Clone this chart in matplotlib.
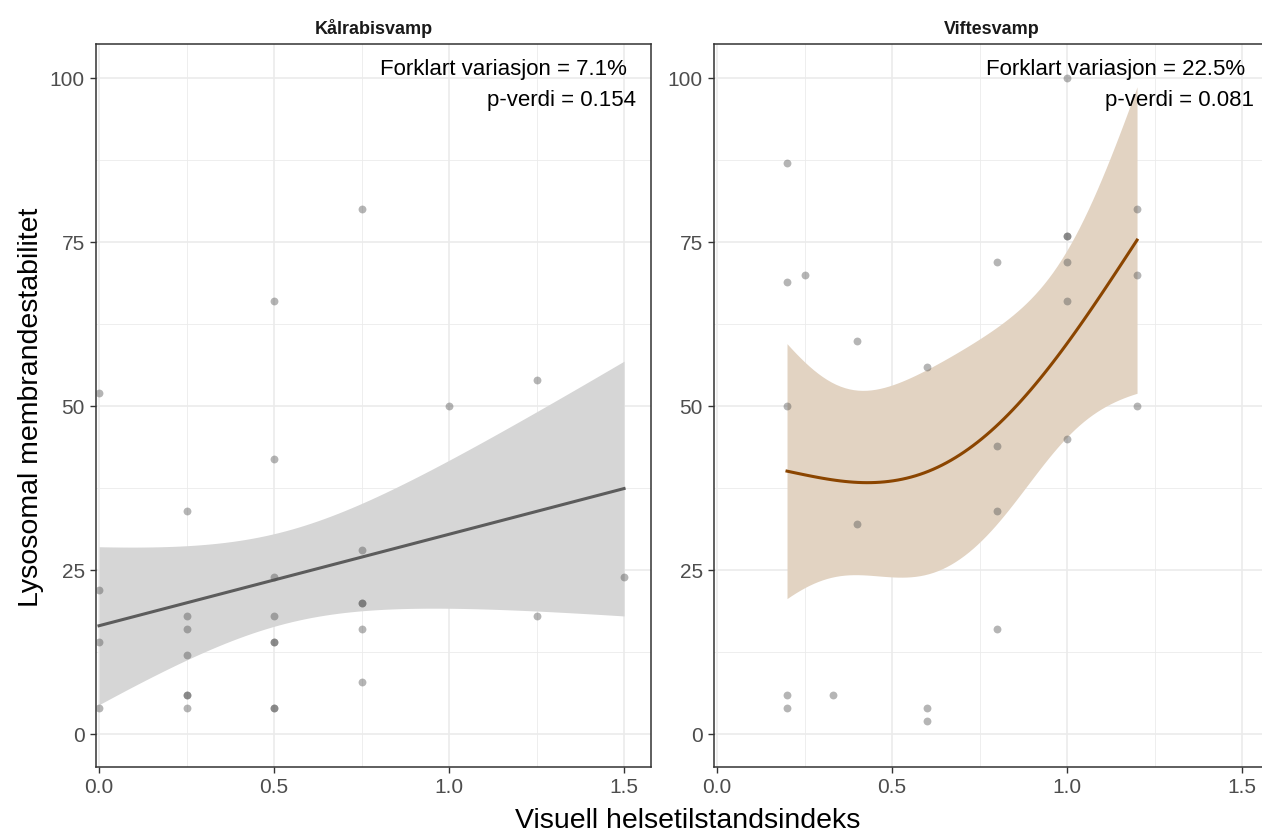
import numpy as np
import matplotlib
matplotlib.use("Agg")
import matplotlib.pyplot as plt
from matplotlib.ticker import MultipleLocator, FormatStrFormatter

plt.rcParams['font.family'] = ['Liberation Sans', 'DejaVu Sans']

# Kålrabisvamp data (x = visual health index, y = membrane destabilisation)
kal_x = [0, 0, 0, 0,
         0.25, 0.25, 0.25, 0.25, 0.25, 0.25, 0.25,
         0.5, 0.5, 0.5, 0.5, 0.5, 0.5, 0.5, 0.5,
         0.75, 0.75, 0.75, 0.75, 0.75, 0.75,
         1.0, 1.25, 1.25, 1.5]
kal_y = [52, 22, 14, 4,
         34, 18, 16, 12, 6, 6, 4,
         66, 42, 24, 18, 14, 14, 4, 4,
         80, 28, 20, 20, 16, 8,
         50, 54, 18, 24]

# Viftesvamp data
vif_x = [0.2, 0.2, 0.2, 0.2, 0.2,
         0.25, 0.33, 0.4, 0.4,
         0.6, 0.6, 0.6,
         0.8, 0.8, 0.8, 0.8,
         1.0, 1.0, 1.0, 1.0, 1.0, 1.0,
         1.2, 1.2, 1.2]
vif_y = [87, 69, 50, 6, 4,
         70, 6, 60, 32,
         56, 4, 2,
         72, 44, 34, 16,
         100, 76, 76, 72, 66, 45,
         80, 70, 50]

titles = ["Kålrabisvamp", "Viftesvamp"]
notes = [("Forklart variasjon = 7.1%", "p-verdi = 0.154"),
         ("Forklart variasjon = 22.5%", "p-verdi = 0.081")]


def tp_basis(xu, k):
    # 1-d thin plate regression spline (m=2), like mgcv s(x, k=k)
    eta = lambda r: np.abs(r) ** 3 / 12.0
    E = eta(xu[:, None] - xu[None, :])
    vals, vecs = np.linalg.eigh(E)
    idx = np.argsort(-np.abs(vals))[:k]
    U, D = vecs[:, idx], vals[idx]
    T = np.column_stack([np.ones_like(xu), xu])
    Q, _ = np.linalg.qr(U.T @ T, mode='complete')
    Z = Q[:, 2:]
    S = Z.T @ np.diag(D) @ Z
    S = (S + S.T) / 2
    if np.trace(S) < 0:
        S = -S

    def design(x):
        W = eta(x[:, None] - xu[None, :]) @ U @ Z
        return np.column_stack([np.ones_like(x), x, W])
    return design, S


def gam_band(x, y, k=3, n_out=80):
    """penalised spline smooth, smoothing parameter by REML, 95% band"""
    x = np.asarray(x, float)
    y = np.asarray(y, float)
    n = len(x)
    design, Sw = tp_basis(np.unique(x), k)
    X = design(x)
    p = X.shape[1]
    S = np.zeros((p, p))
    S[2:, 2:] = Sw
    rank = p - 2
    best = None
    for lr in np.linspace(-12, 20, 1601):
        lam = np.exp(lr)
        A = X.T @ X + lam * S
        b = np.linalg.solve(A, X.T @ y)
        Dp = np.sum((y - X @ b) ** 2) + lam * b @ S @ b
        crit = ((n - 2) * np.log(Dp / (n - 2)) + np.linalg.slogdet(A)[1]
                - rank * lr)
        if best is None or crit < best[0]:
            best = (crit, lam, b, A, Dp)
    _, lam, b, A, Dp = best
    Vp = np.linalg.inv(A) * Dp / (n - 2)
    xs = np.linspace(x.min(), x.max(), n_out)
    Xs = design(xs)
    ys = Xs @ b
    se = np.sqrt(np.einsum('ij,jk,ik->i', Xs, Vp, Xs))
    return xs, ys, ys - 1.96 * se, ys + 1.96 * se


fig = plt.figure(figsize=(12.62, 8.34), dpi=100)
W, H = 1262, 834
ax1 = fig.add_axes([96 / W, 67 / H, 555 / W, 723 / H])
ax2 = fig.add_axes([714 / W, 67 / H, 555 / W, 723 / H])

panels = [(ax1, kal_x, kal_y, "#5c5c5c", "#d6d6d6"),
          (ax2, vif_x, vif_y, "#8b4500", "#e2d3c2")]

for i, (ax, x, y, lc, fc) in enumerate(panels):
    ax.set_xlim(-0.0086, 1.577)
    ax.set_ylim(-5, 105.2)
    ax.xaxis.set_major_locator(MultipleLocator(0.5))
    ax.xaxis.set_minor_locator(MultipleLocator(0.25))
    ax.yaxis.set_major_locator(MultipleLocator(25))
    ax.yaxis.set_minor_locator(MultipleLocator(12.5))
    ax.grid(which='major', color='#ebebeb', lw=1.2, zorder=0)
    ax.grid(which='minor', color='#ebebeb', lw=0.6, zorder=0)
    ax.set_axisbelow(True)
    for sp in ax.spines.values():
        sp.set_color('#333333')
        sp.set_linewidth(1.1)
    ax.tick_params(which='major', length=4.5, width=1, color='#333333',
                   labelsize=15, labelcolor='#4d4d4d', pad=3.5)
    ax.tick_params(which='minor', length=0)
    ax.xaxis.set_major_formatter(FormatStrFormatter('%.1f'))

    xs, ys, lo, hi = gam_band(x, y)
    ax.fill_between(xs, lo, hi, color=fc, lw=0, zorder=2)
    ax.plot(xs, ys, color=lc, lw=2.2, zorder=3)
    ax.scatter(x, y, s=32, color='#505050', alpha=0.42, lw=0, zorder=4)

    ax.text(0.957, 0.957, notes[i][0], transform=ax.transAxes, ha='right',
            va='baseline', fontsize=16, color='black')
    ax.text(0.973, 0.914, notes[i][1], transform=ax.transAxes, ha='right',
            va='baseline', fontsize=16, color='black')
    ax.set_title(titles[i], fontsize=13, fontweight='bold', color='#1a1a1a',
                 pad=7)

fig.text(31 / W, 1 - 407 / H, "Lysosomal membrandestabilitet", rotation=90,
         ha='center', va='center', fontsize=20.5)
fig.text(688 / W, 1 - 821 / H, "Visuell helsetilstandsindeks",
         ha='center', va='center', fontsize=20.5)

fig.savefig("out.png", dpi=100)
